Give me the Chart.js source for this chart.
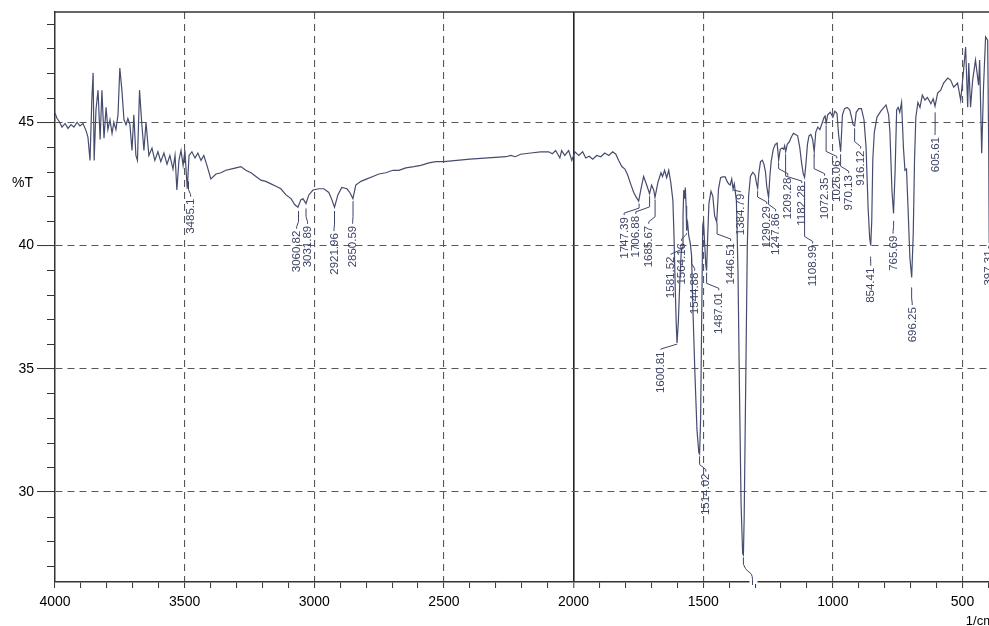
<!DOCTYPE html>
<html><head><meta charset="utf-8">
<script src="https://cdn.jsdelivr.net/npm/chart.js@4.4.0/dist/chart.umd.min.js"></script>
<style>
html,body{margin:0;padding:0;background:#fff;overflow:hidden;width:989px;height:626px;}
#wrap{position:absolute;left:0;top:0;width:1004px;height:626px;}
</style></head><body>
<div id="wrap"><canvas id="c" width="1004" height="626"></canvas></div>
<script>
// ---- spectrum (wavenumber in 1/cm, %T) ----
const wavenumber = [
4000,3992,3985,3973,3961,3950,3938,3927,3915,3904,
3892,3880,3873,3865,3858,3853,3849,3842,3834,3826,
3819,3811,3803,3796,3788,3780,3773,3765,3757,3750,
3742,3734,3726,3719,3711,3703,3696,3688,3682,3674,
3665,3657,3649,3638,3626,3615,3603,3592,3580,3568,
3557,3545,3537,3530,3522,3514,3506,3499,3490,3483,
3472,3460,3449,3437,3426,3414,3399,3379,3360,3341,
3322,3302,3283,3264,3244,3225,3206,3187,3167,3148,
3129,3109,3090,3075,3063,3052,3044,3032,3021,3005,
2982,2963,2944,2932,2922,2909,2894,2874,2863,2851,
2840,2820,2797,2774,2751,2724,2697,2674,2647,2616,
2589,2558,2531,2500,2400,2330,2261,2242,2225,2204,
2165,2127,2096,2082,2069,2053,2046,2034,2019,2007,
1995,1980,1965,1953,1940,1926,1911,1895,1880,1864,
1849,1837,1826,1814,1802,1791,1780,1768,1758,1749,
1740,1730,1718,1707,1699,1691,1686,1675,1663,1657,
1649,1641,1633,1625,1617,1613,1608,1604,1601,1596,
1590,1585,1581.5,1578,1575,1572,1569,1566,1564,1560,
1556,1550,1545,1540,1532,1524,1517,1514,1510,1506,
1502,1499,1495,1490,1487,1483,1478,1470,1463,1456,
1448,1441,1433,1425,1415,1408,1402,1396,1390,1385,
1380,1372,1366,1360,1354,1348,1345,1342,1336,1330,
1325,1318,1309,1300,1294,1290,1286,1279,1272,1266,
1260,1255,1248,1243,1238,1230,1222,1215,1209,1203,
1196,1190,1186,1182,1176,1168,1160,1152,1144,1136,
1128,1120,1114,1109,1104,1098,1092,1085,1078,1072,
1066,1058,1050,1042,1034,1030,1026,1020,1010,1000,
992,984,978,970,963,955,945,935,928,922,
916,910,900,890,880,872,864,858,854,850,
846,840,830,815,795,785,780,772,766,760,
754,748,742,735,728,722,716,710,703,696,
690,685,680,672,664,655,645,635,622,613,
606,596,584,573,557,546,534,519,507,496,
488,480,476,469,461,450,438,434,426,419,
411,403,399,397,393,388,380
];
const percentT = [
45.37,45.15,45.05,44.8,44.95,44.75,44.9,44.8,45.0,44.85,
44.95,44.65,44.4,43.45,45.9,47.0,43.45,45.5,46.3,44.3,
46.3,44.35,45.6,44.7,45.1,44.55,45.0,44.7,45.3,47.2,
46.3,45.1,44.9,45.15,44.9,43.85,45.3,43.65,43.45,46.3,
44.9,43.85,45.0,43.65,43.95,43.45,43.8,43.4,43.75,43.3,
43.65,43.1,43.65,42.25,43.45,43.85,43.25,43.85,42.3,43.65,
43.8,43.55,43.75,43.45,43.65,43.25,42.7,42.9,42.95,43.05,
43.1,43.15,43.2,43.05,42.95,42.8,42.65,42.6,42.5,42.4,
42.3,42.05,41.9,41.65,41.55,41.85,41.9,41.7,42.05,42.25,
42.3,42.3,42.15,41.85,41.55,42.05,42.35,42.3,42.15,41.9,
42.45,42.6,42.7,42.8,42.9,42.95,43.05,43.05,43.15,43.2,
43.25,43.35,43.4,43.4,43.5,43.55,43.6,43.65,43.6,43.7,
43.75,43.8,43.8,43.72,43.85,43.55,43.85,43.65,43.85,43.45,
43.8,43.65,43.8,43.55,43.62,43.5,43.65,43.6,43.75,43.65,
43.8,43.7,43.45,43.2,43.1,42.85,42.5,42.15,41.95,41.8,
42.3,42.8,42.45,42.1,42.45,42.25,41.95,42.55,42.95,42.8,
43.05,42.75,43.05,42.55,41.83,40.5,38.3,36.8,36.05,36.9,
38.6,39.7,39.9,41.2,42.25,41.9,42.35,41.6,40.6,40.9,
40.4,40.1,39.6,37.5,34.8,32.5,31.6,31.54,33.0,37.0,
40.8,41.0,40.2,39.2,38.98,40.3,41.7,42.2,42.0,41.2,
40.95,42.3,42.75,42.78,42.78,42.6,42.5,42.45,42.7,42.3,
42.5,41.8,39.0,34.0,29.5,27.5,27.45,29.0,34.5,40.0,
42.0,42.8,42.97,42.85,42.5,42.32,42.9,43.4,43.46,43.3,
43.0,42.4,41.95,42.8,43.4,43.9,44.1,44.15,43.46,43.9,
43.95,43.9,44.05,43.8,44.1,44.2,44.4,44.55,44.5,44.45,
44.0,43.3,42.9,42.76,43.3,44.1,44.45,44.5,44.3,43.8,
44.6,44.8,44.7,44.95,45.2,45.25,44.95,45.3,45.4,45.2,
45.45,45.35,44.5,43.8,45.3,45.55,45.6,45.5,45.2,44.9,
44.85,45.4,45.55,45.55,45.1,44.0,41.5,40.3,40.0,41.0,
43.5,44.6,45.2,45.45,45.7,45.3,44.6,42.2,41.3,43.0,
45.5,45.6,45.4,45.8,44.0,43.05,43.1,41.5,39.5,38.7,
40.5,43.5,45.2,45.8,45.6,46.1,45.9,46.0,45.75,45.95,
45.65,46.18,46.3,46.59,46.79,46.71,46.42,46.59,45.89,47.11,
48.05,45.61,47.4,45.61,46.7,47.52,46.5,47.52,43.74,46.42,
48.46,48.33,43.9,40.1,41.5,43.0,44.0
];

// ---- peak annotations ----
const peakLabels = ['3485.1','3060.82','3031.89','2921.96','2850.59','1747.39','1706.88','1685.67','1600.81','1581.52','1564.16','1544.88','1514.02','1487.01','1446.51','1384.79','1290.29','1247.86','1209.28','1182.28','1108.99','1072.35','1026.06','970.13','916.12','854.41','765.69','696.25','605.61','397.31',''];
const peakWn     = [3485.1,3060.82,3031.89,2921.96,2850.59,1747.39,1706.88,1685.67,1600.81,1581.52,1564.16,1544.88,1514.02,1487.01,1446.51,1384.79,1290.29,1247.86,1209.28,1182.28,1108.99,1072.35,1026.06,970.13,916.12,854.41,765.69,696.25,605.61,397.31,1345];
const peakT      = [42.6,41.4,41.5,41.4,41.8,41.7,42.0,41.85,36.0,39.85,40.5,39.5,31.45,38.9,40.9,42.25,42.2,41.85,43.35,43.7,42.6,43.7,44.85,43.7,44.75,39.55,41.0,38.3,45.4,40.0,27.35];
const labelWn    = [3477,3068,3026,2924,2852,1805,1760,1710,1664,1625,1583,1533,1490,1440,1394,1355,1255,1221,1174,1120,1078,1032,985,939,893,854,768,694,606,400,1310];
const labelTopT  = [41.9,40.6,40.8,40.5,40.8,41.15,41.2,40.8,35.7,39.55,40.1,38.9,30.75,38.1,40.1,42.1,41.6,41.3,42.75,42.45,40.0,42.75,43.45,42.85,43.85,39.1,40.4,37.5,44.4,39.8,26.0];

// ---- axes ----
const xTickValues = [4000,3900,3800,3700,3600,3500,3400,3300,3200,3100,3000,2900,2800,2700,2600,2500,2400,2300,2200,2100,2000,1900,1800,1700,1600,1500,1400,1300,1200,1100,1000,900,800,700,600,500,400];
const xLabelValues = [4000,3500,3000,2500,2000,1500,1000,500];
const yTickValues = [30,35,40,45];
const yMinorTicks = [27,28,29,31,32,33,34,36,37,38,39,41,42,43,44,46,47,48,49];
const xTitle = '1/cm';
const yTitle = '%T';

const FONT = '"Liberation Sans", Arial, sans-serif';
const labelColor = '#3d4466';
const traceColor = '#464c6e';
const axisColor = '#333';
const gridColor = '#585858';

const decor = {
  id: 'decor',
  afterDatasetsDraw(chart) {
    const {ctx, scales: {x, y}, chartArea} = chart;
    ctx.save();
    ctx.lineWidth = 1;
    ctx.strokeStyle = labelColor;
    ctx.fillStyle = labelColor;
    ctx.font = '11.5px ' + FONT;
    for (let i = 0; i < peakWn.length; i++) {
      const px = x.getPixelForValue(peakWn[i]);
      const py = y.getPixelForValue(peakT[i]);
      const tx = x.getPixelForValue(labelWn[i]);
      const ty = y.getPixelForValue(labelTopT[i]);
      if (peakLabels[i] === '') {
        const b = chartArea.bottom;
        ctx.save();
        ctx.fillStyle = '#fff';
        ctx.fillRect(tx - 3, b - 2, 8, 4);
        ctx.beginPath();
        ctx.moveTo(px, py);
        ctx.lineTo(px, py + 7);
        ctx.quadraticCurveTo(px + 2, py + 12, (px + tx) / 2, py + 14);
        ctx.quadraticCurveTo(tx, py + 16, tx, py + 22);
        ctx.lineTo(tx, b + 3);
        ctx.stroke();
        ctx.restore();
        continue;
      }
      const bendY = Math.max(py, ty - 9);
      ctx.beginPath();
      ctx.moveTo(px, py);
      ctx.lineTo(px, bendY);
      ctx.lineTo(tx, Math.min(bendY + 5, ty - 2));
      ctx.lineTo(tx, ty - 2);
      ctx.stroke();
      ctx.save();
      ctx.translate(tx + 0.5, ty);
      ctx.rotate(-Math.PI / 2);
      ctx.textAlign = 'right';
      ctx.textBaseline = 'middle';
      ctx.fillText(peakLabels[i], 0, 0);
      ctx.restore();
    }
    ctx.restore();
  },
  afterDraw(chart) {
    const {ctx, scales: {y}, chartArea} = chart;
    ctx.save();
    ctx.strokeStyle = axisColor;
    ctx.lineWidth = 1.5;
    ctx.beginPath();
    ctx.moveTo(chartArea.left, chartArea.top);
    ctx.lineTo(chartArea.right, chartArea.top);
    ctx.stroke();
    ctx.lineWidth = 1;
    for (const v of yMinorTicks) {
      const py = Math.round(y.getPixelForValue(v)) + 0.5;
      ctx.beginPath();
      ctx.moveTo(chartArea.left - 8, py);
      ctx.lineTo(chartArea.left, py);
      ctx.stroke();
    }
    ctx.fillStyle = '#000';
    ctx.font = '14px ' + FONT;
    ctx.textAlign = 'left';
    ctx.textBaseline = 'middle';
    ctx.fillText(yTitle, 12, chartArea.top + 171);
    ctx.font = '13px ' + FONT;
    ctx.textAlign = 'right';
    ctx.textBaseline = 'alphabetic';
    ctx.fillText(xTitle, chartArea.right - 10, 625);
    ctx.restore();
  }
};

new Chart(document.getElementById('c'), {
  type: 'line',
  data: {
    datasets: [{
      data: wavenumber.map((w, i) => ({x: w, y: percentT[i]})),
      borderColor: traceColor,
      borderWidth: 1.2,
      pointRadius: 0,
      tension: 0,
      fill: false
    }]
  },
  options: {
    responsive: false,
    animation: false,
    events: [],
    devicePixelRatio: 1,
    layout: {padding: {top: 12, left: 0, right: 0, bottom: 0}},
    plugins: {legend: {display: false}, tooltip: {enabled: false}},
    scales: {
      x: {
        type: 'linear', reverse: true, min: 340, max: 4000,
        afterBuildTicks: s => { s.ticks = xTickValues.map(v => ({value: v})); },
        afterFit: s => { s.height = 44; },
        ticks: {
          autoSkip: false, maxRotation: 0, minRotation: 0, padding: 6, color: '#000',
          font: {family: FONT, size: 14},
          callback: v => xLabelValues.includes(v) ? String(v) : ''
        },
        grid: {
          color: c => (c.tick && c.tick.value % 500 === 0 && c.tick.value !== 4000) ? (c.tick.value === 2000 ? '#222' : gridColor) : 'rgba(0,0,0,0)',
          lineWidth: c => (c.tick && c.tick.value === 2000) ? 1.6 : 1.1,
          tickColor: axisColor, tickLength: 6, tickWidth: 1
        },
        border: {color: axisColor, width: 1.5, dash: c => (c.tick && c.tick.value !== 2000) ? [7, 5] : []}
      },
      y: {
        min: 26.35, max: 49.47,
        afterBuildTicks: s => { s.ticks = yTickValues.map(v => ({value: v})); },
        afterFit: s => { s.width = 55; },
        ticks: {padding: 3, color: '#000', font: {family: FONT, size: 14}, callback: v => String(v)},
        grid: {color: gridColor, lineWidth: 1.1, tickColor: axisColor, tickLength: 18, tickWidth: 1},
        border: {color: axisColor, width: 1.5, dash: c => c.tick ? [7, 5] : []}
      }
    }
  },
  plugins: [decor]
});
</script>
</body></html>
